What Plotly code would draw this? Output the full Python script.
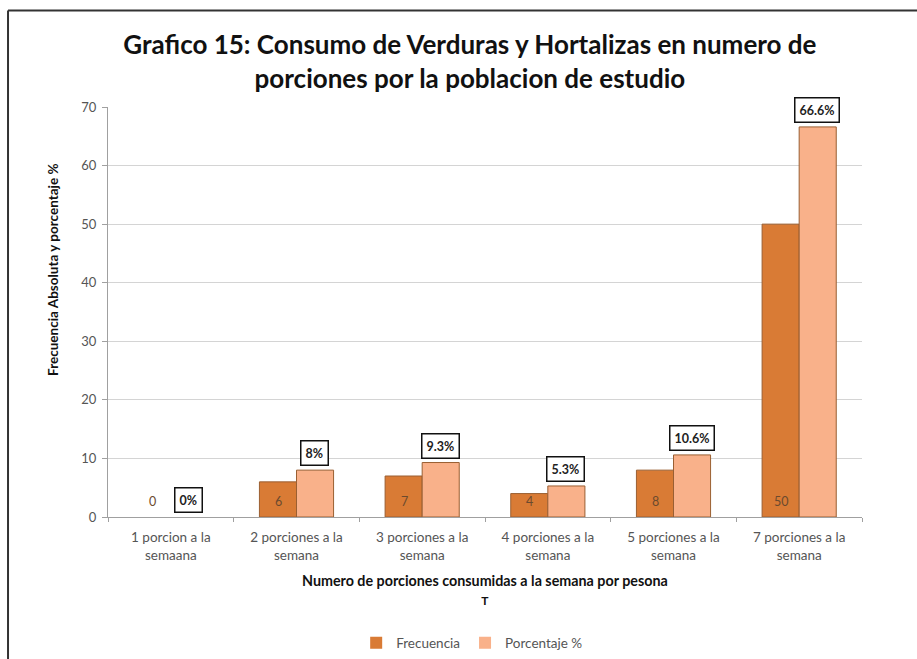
import plotly.graph_objects as go

# Porciones de verduras y hortalizas consumidas por semana
categorias = [
    "1 porcion a la<br>semaana",
    "2 porciones a la<br>semana",
    "3 porciones a la<br>semana",
    "4 porciones a la<br>semana",
    "5 porciones a la<br>semana",
    "7 porciones a la<br>semana",
]
frecuencia = [0, 6, 7, 4, 8, 50]
porcentaje = [0, 8, 9.3, 5.3, 10.6, 66.6]
etiquetas_pct = ["0%", "8%", "9.3%", "5.3%", "10.6%", "66.6%"]

FONT = "Lato"
COL_FREC = "#D97B35"
COL_PCT = "#F9B18A"
EDGE = "#9A5F32"

fig = go.Figure()
fig.add_trace(go.Bar(
    name="Frecuencia", x=categorias, y=frecuencia,
    marker=dict(color=COL_FREC,
                line=dict(color=EDGE, width=[1 if v > 0 else 0 for v in frecuencia])),
))
fig.add_trace(go.Bar(
    name="Porcentaje %", x=categorias, y=porcentaje,
    marker=dict(color=COL_PCT,
                line=dict(color=EDGE, width=[1 if v > 0 else 0 for v in porcentaje])),
))

annotations = []
# Frecuencia labels sit near the base of each bar
for c, v in zip(categorias, frecuencia):
    annotations.append(dict(
        x=c, y=0, xref="x", yref="y", text=str(v), showarrow=False,
        xshift=-18, yshift=16, font=dict(family=FONT, size=12.5, color="#6B4A2E"),
    ))
# Boxed percentage labels above the Porcentaje bars
for c, v, t in zip(categorias, porcentaje, etiquetas_pct):
    annotations.append(dict(
        x=c, y=v, xref="x", yref="y", text="<b>" + t + "</b>", showarrow=False,
        xshift=18, yshift=17,
        font=dict(family=FONT, size=12.5, color="#222222"),
        bordercolor="#111111", borderwidth=1.5, borderpad=4, bgcolor="white",
    ))
# Axis titles
annotations.append(dict(
    x=-0.073, y=0.605, xref="paper", yref="paper", textangle=-90,
    xanchor="center", yanchor="middle",
    text="<b>Frecuencia Absoluta y porcentaje %</b>", showarrow=False,
    font=dict(family=FONT, size=13.5, color="#111111"),
))
annotations.append(dict(
    x=0.5, y=-0.179, xref="paper", yref="paper", yanchor="middle",
    text="<b>Numero de porciones consumidas a la semana por pesona</b><br>"
         "<span style='font-size:12px'><b>T</b></span>",
    showarrow=False, font=dict(family=FONT, size=14.3, color="#111111"),
))

# Outer frame (top and left edges)
shapes = [
    dict(type="line", xref="paper", yref="paper", x0=-0.1326, x1=1.1, y0=1.2354, y1=1.2354,
         line=dict(color="#333333", width=2)),
    dict(type="line", xref="paper", yref="paper", x0=-0.1326, x1=-0.1326, y0=1.2354, y1=-0.4,
         line=dict(color="#333333", width=2)),
]

fig.update_layout(
    width=917, height=659,
    margin=dict(l=108, r=55, t=107, b=142),
    paper_bgcolor="white", plot_bgcolor="white",
    barmode="group", bargap=0.41, bargroupgap=0,
    title=dict(
        text="<b>Grafico 15: Consumo de Verduras y Hortalizas en numero de<br>porciones por la poblacion de estudio</b>",
        x=0.48, xref="paper", xanchor="center",
        y=0.918, yref="container", yanchor="middle",
        font=dict(family=FONT, size=26, color="#111111"),
    ),
    font=dict(family=FONT, color="#555555"),
    xaxis=dict(
        showline=True, linecolor="#A0A0A0", linewidth=1,
        ticks="outside", tickson="boundaries", ticklen=4, tickcolor="#A0A0A0",
        tickfont=dict(family=FONT, size=13.5, color="#555555"),
        ticklabelstandoff=8,
        showgrid=False, automargin=False,
    ),
    yaxis=dict(
        range=[0, 70], dtick=10, showline=True, linecolor="#A0A0A0", linewidth=1,
        ticks="outside", ticklen=5, tickcolor="#A0A0A0",
        gridcolor="#D4D4D4", gridwidth=1, zeroline=False,
        tickfont=dict(family=FONT, size=13, color="#555555"),
        ticklabelstandoff=3, automargin=False,
    ),
    legend=dict(
        orientation="h", x=0.483, xanchor="center",
        y=1 - 643 / 659, yref="container", yanchor="middle",
        font=dict(family=FONT, size=13.5, color="#555555"),
        itemwidth=30, traceorder="normal",
    ),
    annotations=annotations,
    shapes=shapes,
)

fig.write_html("out.html")
